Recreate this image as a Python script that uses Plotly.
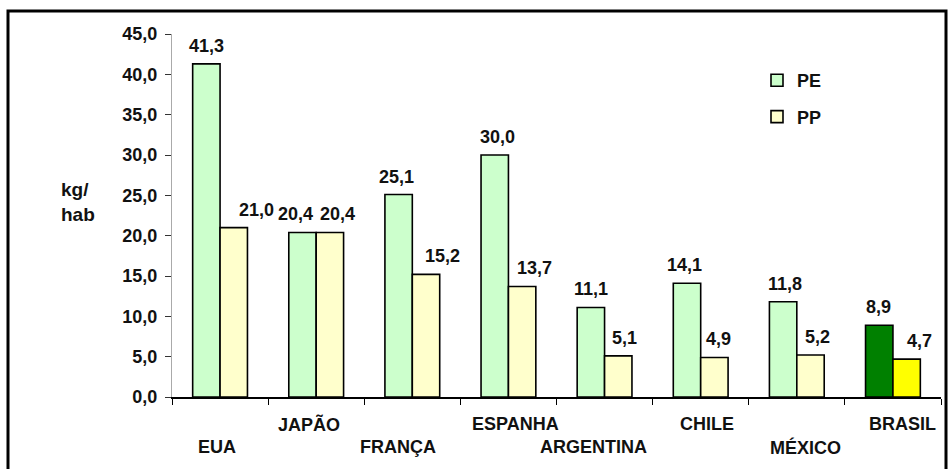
import plotly.graph_objects as go

categories = ["EUA", "JAPÃO", "FRANÇA", "ESPANHA", "ARGENTINA", "CHILE", "MÉXICO", "BRASIL"]
pe_values = [41.3, 20.4, 25.1, 30.0, 11.1, 14.1, 11.8, 8.9]
pp_values = [21.0, 20.4, 15.2, 13.7, 5.1, 4.9, 5.2, 4.7]
y_ticks = [0, 5, 10, 15, 20, 25, 30, 35, 40, 45]

# styling: colours and small label nudges (pixels)
pe_colors = ["#CCFFCC"] * 7 + ["#008000"]
pp_colors = ["#FFFFCC"] * 7 + ["#FFFF00"]
pe_label_dx = [0, -7, -2, 3, 0, -2, 2, 0]
pp_label_dx = [22, 7, 16, 12, 6, 4, 7, 13]
cat_label_dx = [-3, -7, -14, 7, -11, 6, 9, 10]

FONT = "Liberation Sans, Arial, sans-serif"
FS = 18

W, H = 948, 469
ML, MR, MT, MB = 172, 7, 34, 72
PW, PH = W - ML - MR, H - MT - MB

fig = go.Figure()
fig.add_trace(go.Bar(name="PE", x=categories, y=pe_values,
                     marker=dict(color=pe_colors, line=dict(color="black", width=1.6)),
                     legendgroup="pe"))
fig.add_trace(go.Bar(name="PP", x=categories, y=pp_values,
                     marker=dict(color=pp_colors, line=dict(color="black", width=1.6)),
                     legendgroup="pp"))

def fmt(v):
    return f"{v:.1f}".replace(".", ",")

bold = dict(family=FONT, size=FS, color="#111", weight="bold")
annotations = []
for i, c in enumerate(categories):
    annotations.append(dict(x=c, y=pe_values[i], xref="x", yref="y", text=fmt(pe_values[i]),
                            showarrow=False, xanchor="center", yanchor="bottom",
                            xshift=-14 + pe_label_dx[i], yshift=6, font=bold))
    annotations.append(dict(x=c, y=pp_values[i], xref="x", yref="y", text=fmt(pp_values[i]),
                            showarrow=False, xanchor="center", yanchor="bottom",
                            xshift=14 + pp_label_dx[i], yshift=6, font=bold))
    annotations.append(dict(x=c, y=0, xref="x", yref="paper", text=c, showarrow=False,
                            xanchor="center", yanchor="middle", xshift=cat_label_dx[i],
                            yshift=-50 if i % 2 == 0 else -27, font=bold))

annotations.append(dict(x=(59 - ML) / PW, y=(397 - 202) / PH, xref="paper", yref="paper",
                        text="kg/<br>hab", showarrow=False, align="left",
                        xanchor="left", yanchor="middle",
                        font=dict(family=FONT, size=19, color="#111", weight="bold")))

fig.update_layout(
    width=W, height=H,
    margin=dict(l=ML, r=MR, t=MT, b=MB),
    paper_bgcolor="white", plot_bgcolor="white",
    barmode="group", bargap=0.43, bargroupgap=0,
    separators=",.",
    font=dict(family=FONT, size=FS, color="#111"),
    legend=dict(x=(757 - ML) / PW, y=(397 - 62) / PH, xanchor="left", yanchor="top",
                tracegroupgap=10, bgcolor="rgba(0,0,0,0)",
                font=dict(family=FONT, size=FS, color="#111", weight="bold")),
    annotations=annotations,
    shapes=[dict(type="rect", xref="paper", yref="paper",
                 x0=(8 - ML) / PW, x1=(946 - ML) / PW,
                 y0=(397 - 480) / PH, y1=(397 - 11) / PH,
                 line=dict(color="black", width=3), fillcolor="rgba(0,0,0,0)", layer="below")],
)
fig.update_xaxes(showticklabels=False, tickson="boundaries", ticks="outside", ticklen=6,
                 tickcolor="black", showline=True, linecolor="black", linewidth=2,
                 showgrid=False, zeroline=False)
fig.update_yaxes(range=[0, 45], tickvals=y_ticks, tickformat=".1f", ticks="outside", ticklen=6,
                 tickcolor="#333", showline=True, linecolor="#aaa", linewidth=1,
                 showgrid=False, zeroline=False, ticklabelstandoff=4,
                 tickfont=bold)

fig.write_html("out.html")
